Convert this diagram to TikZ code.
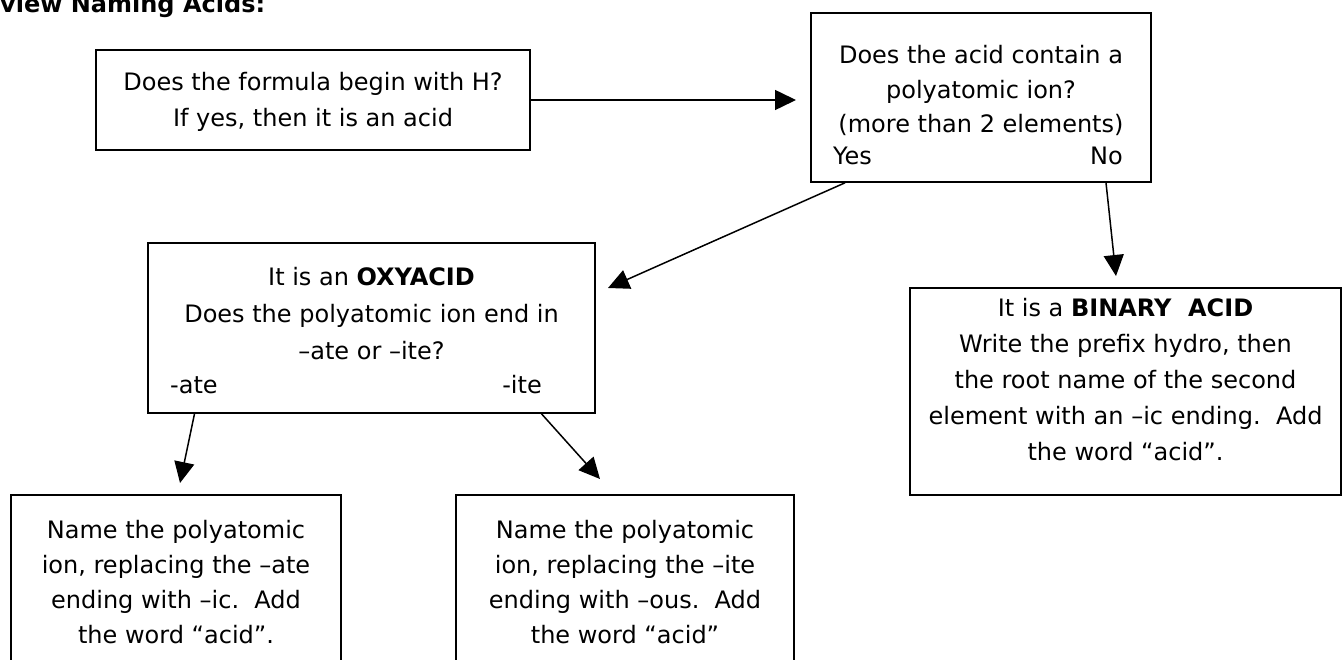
\documentclass[tikz,border=0pt]{standalone}
\usepackage{fontspec}
\setmainfont{DejaVu Sans}
\usetikzlibrary{arrows.meta}
\begin{document}
\begin{tikzpicture}[x=1pt,y=-1pt,
  box/.style={draw, line width=1.6pt, inner sep=0pt},
  txt/.style={align=center, inner sep=0pt},
  lbl/.style={inner sep=0pt, font=\fontsize{24}{35}\selectfont},
  arr/.style={line width=1.5pt, -{Triangle[length=21pt,width=20pt]}}]
\useasboundingbox (0,0) rectangle (1343,660);
% title
\node[inner sep=0pt, font=\fontsize{24}{30}\selectfont\bfseries, anchor=base west] (title) at (0,12.5) {view Naming Acids:};
% boxes
\node[box, minimum width=434pt, minimum height=100pt] (b1) at (313,100) {};
\node[box, minimum width=340pt, minimum height=169pt] (b2) at (981,97.5) {};
\node[box, minimum width=447pt, minimum height=170pt] (b3) at (371.5,328) {};
\node[box, minimum width=431pt, minimum height=207pt] (b4) at (1125.5,391.5) {};
\node[box, minimum width=330pt, minimum height=205pt] (b5) at (176,597.5) {};
\node[box, minimum width=338pt, minimum height=205pt] (b6) at (625,597.5) {};
% texts
\node[txt, font=\fontsize{24}{36}\selectfont] (t1) at (313,102) {Does the formula begin with H?\\If yes, then it is an acid};
\node[txt, font=\fontsize{24}{34.5}\selectfont] (t2) at (981,90.6) {Does the acid contain a\\polyatomic ion?\\(more than 2 elements)};
\node[lbl, anchor=base west] (yes) at (833,165) {Yes};
\node[lbl, anchor=base east] (no) at (1123,165) {No};
\node[txt, font=\fontsize{24}{37}\selectfont] (t3) at (371.5,314) {It is an \textbf{OXYACID}\\Does the polyatomic ion end in\\–ate or –ite?};
\node[lbl, anchor=base west] (ate) at (170,393) {-ate};
\node[lbl, anchor=base east] (ite) at (542,393) {-ite};
\node[txt, font=\fontsize{24}{36}\selectfont] (t4) at (1125.5,380) {It is a \textbf{BINARY\ \ ACID}\\Write the prefix hydro, then\\the root name of the second\\element with an –ic ending.\ \ Add\\the word “acid”.};
\node[txt, font=\fontsize{24}{35}\selectfont] (t5) at (176,581.6) {Name the polyatomic\\ion, replacing the –ate\\ending with –ic.\ \ Add\\the word “acid”.};
\node[txt, font=\fontsize{24}{35}\selectfont] (t6) at (625,581.6) {Name the polyatomic\\ion, replacing the –ite\\ending with –ous.\ \ Add\\the word “acid”};
% connector ends
\coordinate (e1) at (796,100);
\coordinate (eyes) at (608,288);
\coordinate (eno) at (1116,276);
\coordinate (eate) at (180,483);
\coordinate (eite) at (600,479);
% connectors
\draw[arr] (b1.east) -- (e1);
\draw[arr] ([xshift=-136pt]b2.south) -- (eyes);
\draw[arr] ([xshift=125pt]b2.south) -- (eno);
\draw[arr] ([xshift=-177pt]b3.south) -- (eate);
\draw[arr] ([xshift=170pt]b3.south) -- (eite);
\end{tikzpicture}
\end{document}
